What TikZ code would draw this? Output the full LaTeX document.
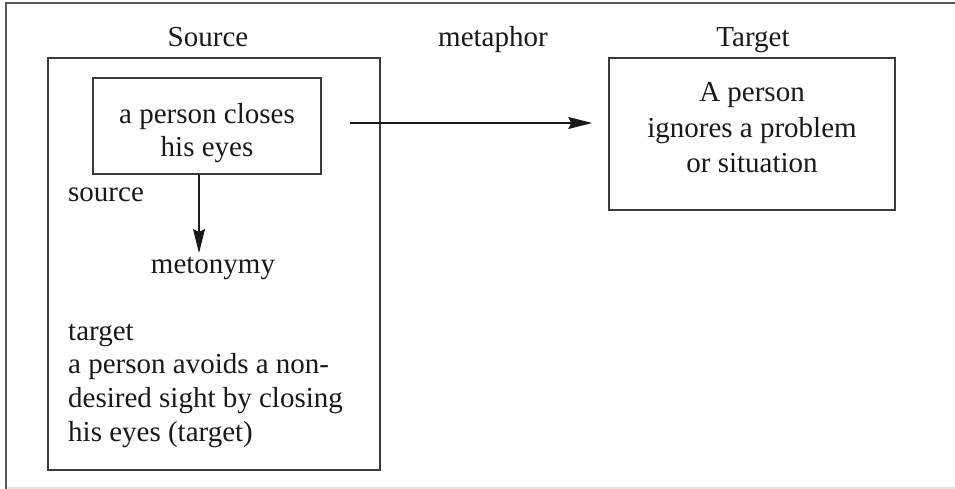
\documentclass[tikz,border=0pt]{standalone}
\usepackage{fontspec}
\setmainfont{Liberation Serif}
\newfontfamily\diagfont{Liberation Serif}
\usetikzlibrary{arrows.meta}
\definecolor{boxline}{HTML}{3A3A3A}
\definecolor{frameline}{HTML}{5A5A5A}
\definecolor{faintline}{HTML}{E4E4E4}
\begin{document}
\begin{tikzpicture}[x=1pt,y=1pt,
  every node/.style={font=\diagfont\fontsize{29}{33}\selectfont, inner sep=0pt, text=black!90},
  frame/.style={draw=boxline, line width=1.5pt, minimum width=#1},
  label/.style={anchor=base},
  lefttext/.style={anchor=base west},
  conn/.style={draw=black!90, line width=1.3pt, -{Stealth[length=24pt,width=12pt,inset=3pt]}}
]
\useasboundingbox (0,0) rectangle (955,-489);

% surrounding frame, cut on the right
\draw[draw=frameline, line width=2pt] (5.5,-489) -- (5.5,-3) -- (955,-3);
\draw[draw=faintline, line width=1.5pt] (6.5,-487.8) -- (955,-487.8);

% headings
\node[label] (hsrc) at (208,-46.7) {Source};
\node[label] (hmet) at (493,-46.7) {metaphor};
\node[label] (htgt) at (753,-46.7) {Target};

% source domain
\node[frame=332pt, minimum height=412pt] (srcbox) at (214,-264) {};
\node[frame=228pt, minimum height=96pt] (inner) at (207,-126) {};
\node[label] (in1) at (207,-124) {a person closes};
\node[label] (in2) at (207,-157) {his eyes};
\node[lefttext] (srclab) at (68,-201.7) {source};
\node[label] (meto) at (213,-273) {metonymy};
\node[lefttext] (tgtlab) at (68,-340) {target};
\node[lefttext] (t1) at (68,-373.5) {a person avoids a non-};
\node[lefttext] (t2) at (68,-407.5) {desired sight by closing};
\node[lefttext] (t3) at (68,-441.5) {his eyes (target)};

% target domain
\node[frame=286pt, minimum height=152pt] (tgt) at (752,-134) {};
\node[label] (g1) at (752,-102) {A person};
\node[label] (g2) at (752,-137.5) {ignores a problem};
\node[label] (g3) at (752,-173) {or situation};

% connectors
\coordinate (mtip) at (199,-253);
\draw[conn] (inner.south -| mtip) -- (mtip);
\coordinate (mstart) at (350,-123);
\draw[conn, shorten >=16pt] (mstart) -- (tgt.west |- mstart);
\end{tikzpicture}
\end{document}
